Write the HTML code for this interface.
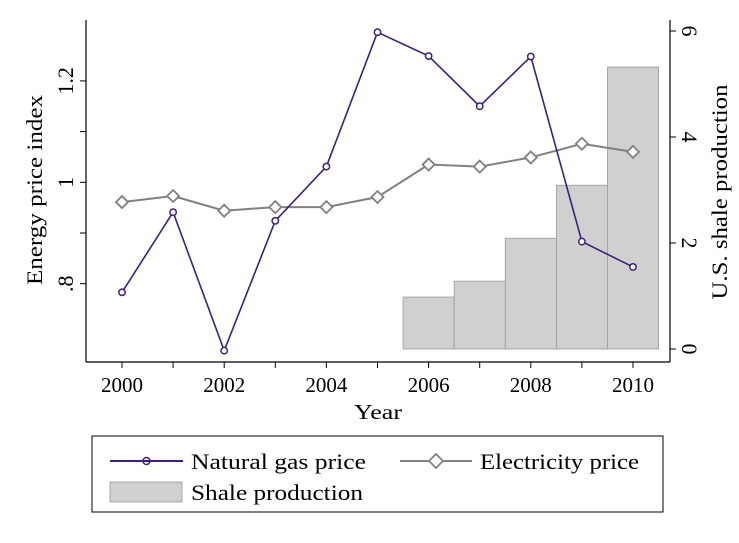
<!DOCTYPE html>
<html><head><meta charset="utf-8"><style>
body{margin:0;background:#fff;}
svg text{font-family:"Liberation Serif",serif;fill:#000;}
</style></head><body>
<svg id="chart" width="739" height="538" viewBox="0 0 739 538">
<rect width="739" height="538" fill="#fff"/>
<g id="bars"></g>
<g id="axes"></g>
<g id="lines"></g>
<text x="0" y="0" transform="translate(42,190) rotate(-90)" text-anchor="middle" font-size="22" textLength="190" lengthAdjust="spacingAndGlyphs">Energy price index</text>
<text x="0" y="0" transform="translate(727,192) rotate(-90)" text-anchor="middle" font-size="22" textLength="215" lengthAdjust="spacingAndGlyphs">U.S. shale production</text>
<text x="378" y="419" text-anchor="middle" font-size="21" textLength="48" lengthAdjust="spacingAndGlyphs">Year</text>
<g>
<rect x="92" y="436" width="571" height="76" fill="#fff" stroke="#000" stroke-width="1"/>
<g>
<line x1="110" y1="461" x2="183" y2="461" stroke="#3f1f78" stroke-width="2"/>
<circle cx="146.5" cy="461" r="3.5" fill="none" stroke="#3f1f78" stroke-width="1.5"/>
<text x="191" y="469" font-size="22" textLength="175" lengthAdjust="spacingAndGlyphs">Natural gas price</text></g>
<g>
<line x1="400" y1="461" x2="472" y2="461" stroke="#808080" stroke-width="2"/>
<path d="M436 454 L443 461 L436 468 L429 461 Z" fill="#fff" stroke="#808080" stroke-width="1.8"/>
<text x="480" y="469" font-size="22" textLength="159" lengthAdjust="spacingAndGlyphs">Electricity price</text></g>
<g>
<rect x="110" y="482" width="72" height="20" fill="#d0d0d0" stroke="#999" stroke-width="0.8"/>
<text x="191" y="500" font-size="22" textLength="172" lengthAdjust="spacingAndGlyphs">Shale production</text></g>
</g>
</svg>
<script>
const years=[2000,2001,2002,2003,2004,2005,2006,2007,2008,2009,2010];
const gasPrice=[0.783,0.941,0.668,0.924,1.031,1.296,1.249,1.150,1.248,0.883,0.833];
const elecPrice=[0.961,0.973,0.944,0.951,0.951,0.971,1.035,1.031,1.049,1.076,1.060];
const shaleYears=[2006,2007,2008,2009,2010];
const shaleProd=[0.98,1.28,2.09,3.09,5.32];
const leftTicks=[0.8,1,1.2];
const leftTickLabels=[".8","1","1.2"];
const leftMinor=[0.9,1.1];
const rightTicks=[0,2,4,6];
const xTicks=[2000,2001,2002,2003,2004,2005,2006,2007,2008,2009,2010];
const xLabels=[2000,2002,2004,2006,2008,2010];

const NS="http://www.w3.org/2000/svg";
const X=v=>122+(v-2000)*51.1;
const YL=v=>182.3-(v-1)*507;
const YR=v=>349-v*53;
function mk(tag,attrs,parent){const e=document.createElementNS(NS,tag);for(const k in attrs)e.setAttribute(k,attrs[k]);parent.appendChild(e);return e;}
const bars=document.getElementById('bars'),axes=document.getElementById('axes'),lines=document.getElementById('lines');
const bw=51.1;
shaleYears.forEach((y,i)=>{
  const r=mk('rect',{x:X(y)-bw/2,y:YR(shaleProd[i]),width:bw,height:YR(0)-YR(shaleProd[i]),fill:'#d0d0d0',stroke:'#999','stroke-width':0.8},bars);
  
  
});
mk('line',{x1:86,y1:20,x2:86,y2:362,stroke:'#000','stroke-width':1.2},axes);
mk('line',{x1:86,y1:362,x2:670,y2:362,stroke:'#000','stroke-width':1.2},axes);
mk('line',{x1:670,y1:20,x2:670,y2:362,stroke:'#000','stroke-width':1.2},axes);
leftTicks.forEach((v,i)=>{
  mk('line',{x1:80,y1:YL(v),x2:86,y2:YL(v),stroke:'#000'},axes);
  const t=mk('text',{transform:`translate(73,${YL(v)}) rotate(-90)`,'text-anchor':'middle','font-size':22},axes);
  t.textContent=leftTickLabels[i];
  
  
});
leftMinor.forEach(v=>mk('line',{x1:80,y1:YL(v),x2:86,y2:YL(v),stroke:'#000'},axes));
rightTicks.forEach(v=>{
  mk('line',{x1:670,y1:YR(v),x2:676,y2:YR(v),stroke:'#000'},axes);
  const t=mk('text',{transform:`translate(682,${YR(v)}) rotate(90)`,'text-anchor':'middle','font-size':22},axes);
  t.textContent=v;
  
  
});
xTicks.forEach(v=>mk('line',{x1:X(v),y1:362,x2:X(v),y2:368,stroke:'#000'},axes));
xLabels.forEach(v=>{
  const t=mk('text',{x:X(v),y:392,'text-anchor':'middle','font-size':21},axes);
  t.textContent=v;
  
  
});
const ep=mk('polyline',{points:years.map((y,i)=>X(y)+','+YL(elecPrice[i])).join(' '),fill:'none',stroke:'#808080','stroke-width':2},lines);


years.forEach((y,i)=>{const cx=X(y),cy=YL(elecPrice[i]);
  const m=mk('path',{d:`M${cx} ${cy-6}L${cx+6} ${cy}L${cx} ${cy+6}L${cx-6} ${cy}Z`,fill:'#fff',stroke:'#808080','stroke-width':1.8},lines);
  
  
});
const gp=mk('polyline',{points:years.map((y,i)=>X(y)+','+YL(gasPrice[i])).join(' '),fill:'none',stroke:'#3f1f78','stroke-width':1.6},lines);


years.forEach((y,i)=>{
  const c=mk('circle',{cx:X(y),cy:YL(gasPrice[i]),r:3.2,fill:'#fff',stroke:'#3f1f78','stroke-width':1.5},lines);
  
  
});
</script>
</body></html>
